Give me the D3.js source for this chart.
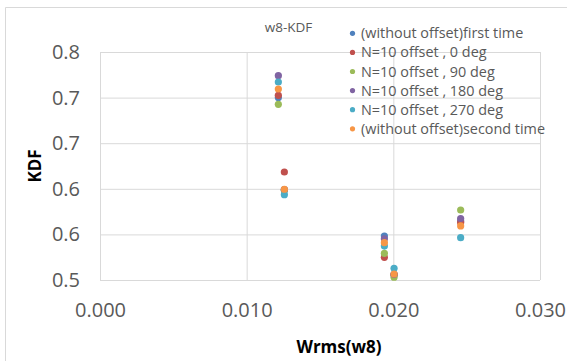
<!DOCTYPE html>
<html>
<head>
<meta charset="utf-8">
<script src="https://cdn.jsdelivr.net/npm/d3@7"></script>
<style>
  body { margin: 0; background: #fff; }
  svg { display: block; font-family: "Open Sans", sans-serif; }
</style>
</head>
<body>
<div id="chart"></div>
<script>
// x positions of the five measurement groups (Wrms)
const xValues = [0.01216, 0.01257, 0.01939, 0.02005, 0.02459];

// KDF per series
const firstTime   = [0.7400, 0.6185, 0.5579, 0.5070, 0.5776];
const offset0     = [0.7430, 0.6421, 0.5299, 0.5068, 0.5757];
const offset90    = [0.7312, 0.6180, 0.5351, 0.5036, 0.5921];
const offset180   = [0.7688, 0.6190, 0.5543, 0.5075, 0.5809];
const offset270   = [0.7605, 0.6123, 0.5447, 0.5154, 0.5557];
const secondTime  = [0.7513, 0.6194, 0.5491, 0.5079, 0.5711];

const seriesNames = [
  "(without offset)first time",
  "N=10 offset , 0 deg",
  "N=10 offset , 90 deg",
  "N=10 offset , 180 deg",
  "N=10 offset , 270 deg",
  "(without offset)second time"
];
const seriesValues = [firstTime, offset0, offset90, offset180, offset270, secondTime];
const seriesColors = ["#4F81BD", "#C0504D", "#9BBB59", "#8064A2", "#4BACC6", "#F79646"];

const xTicks = [0, 0.01, 0.02, 0.03];
const yTicks = [0.5, 0.56, 0.62, 0.68, 0.74, 0.8];

const W = 567, H = 361;
const plot = {left: 100, top: 52, right: 540, bottom: 280};

const svg = d3.select("#chart").append("svg")
  .attr("width", W)
  .attr("height", H);

// outer chart border (cropped screenshot: only top and left visible)
svg.append("path")
  .attr("d", `M5.5,${H + 2} V7.5 H${W + 2}`)
  .attr("fill", "none")
  .attr("stroke", "#D9D9D9")
  .attr("stroke-width", 1);

const x = d3.scaleLinear().domain([0, 0.03]).range([plot.left, plot.right]);
const y = d3.scaleLinear().domain([0.5, 0.8]).range([plot.bottom, plot.top]);

// gridlines
svg.append("g")
  .attr("transform", `translate(${plot.left},0)`)
  .call(d3.axisLeft(y).tickValues(yTicks).tickSize(-(plot.right - plot.left)).tickFormat(""))
  .call(g => g.select(".domain").remove())
  .call(g => g.selectAll("line").attr("stroke", "#D9D9D9"));

svg.append("g")
  .attr("transform", `translate(0,${plot.bottom})`)
  .call(d3.axisBottom(x).tickValues(xTicks).tickSize(-(plot.bottom - plot.top)).tickFormat(""))
  .call(g => g.select(".domain").remove())
  .call(g => g.selectAll("line").attr("stroke", "#D9D9D9"));

// tick labels
svg.append("g")
  .attr("transform", `translate(${plot.left},0)`)
  .call(d3.axisLeft(y).tickValues(yTicks).tickSize(0).tickPadding(20).tickFormat(d3.format(".1f")))
  .call(g => g.select(".domain").remove())
  .call(g => g.selectAll("text")
    .attr("fill", "#595959")
    .style("font-size", "20px")
    .style("font-family", "'Open Sans', sans-serif"));

svg.append("g")
  .attr("transform", `translate(0,${plot.bottom})`)
  .call(d3.axisBottom(x).tickValues(xTicks).tickSize(0).tickPadding(23).tickFormat(d3.format(".3f")))
  .call(g => g.select(".domain").remove())
  .call(g => g.selectAll("text")
    .attr("fill", "#595959")
    .style("font-size", "20px")
    .style("font-family", "'Open Sans', sans-serif"));

// points
seriesValues.forEach((vals, s) => {
  svg.append("g")
    .selectAll("circle")
    .data(vals)
    .join("circle")
      .attr("cx", (d, i) => x(xValues[i]))
      .attr("cy", d => y(d))
      .attr("r", 3.6)
      .attr("fill", seriesColors[s]);
});

// title
svg.append("text")
  .attr("x", 288.5)
  .attr("y", 32.3)
  .attr("text-anchor", "middle")
  .attr("fill", "#595959")
  .style("font-size", "13.5px")
  .text("w8-KDF");

// axis titles
svg.append("text")
  .attr("x", 339)
  .attr("y", 353)
  .attr("text-anchor", "middle")
  .attr("fill", "#000")
  .style("font-size", "17px")
  .style("font-weight", "bold")
  .text("Wrms(w8)");

svg.append("text")
  .attr("transform", "translate(41,166) rotate(-90)")
  .attr("text-anchor", "middle")
  .attr("fill", "#000")
  .style("font-size", "17px")
  .style("font-weight", "bold")
  .text("KDF");

// legend
const legend = svg.append("g").attr("transform", "translate(352.5,33.3)");
const rows = legend.selectAll("g")
  .data(seriesNames)
  .join("g")
    .attr("transform", (d, i) => `translate(0,${i * 19.1})`);
rows.append("circle")
  .attr("r", 2.6)
  .attr("fill", (d, i) => seriesColors[i]);
rows.append("text")
  .attr("x", 8.5)
  .attr("dy", "0.35em")
  .attr("fill", "#595959")
  .style("font-size", "14.4px")
  .text(d => d);
</script>
</body>
</html>
